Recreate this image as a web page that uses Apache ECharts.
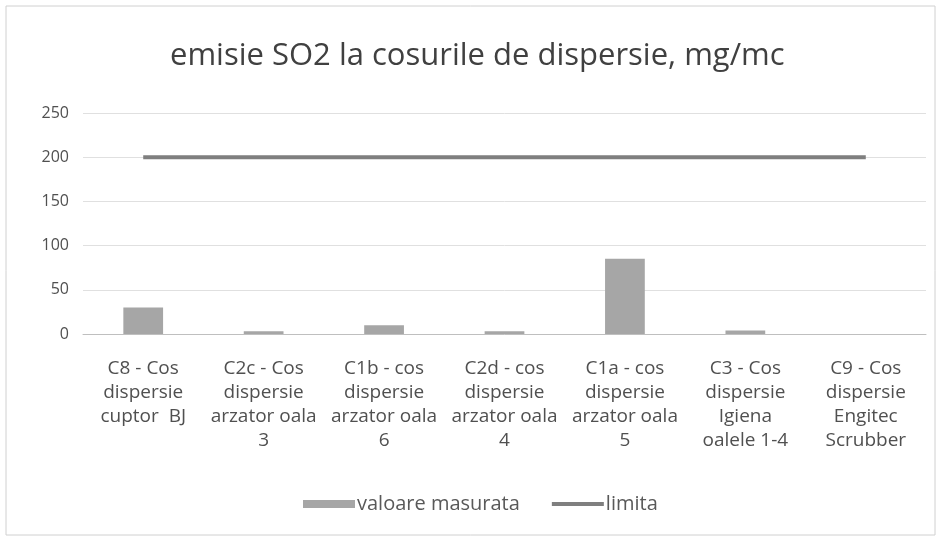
<!DOCTYPE html>
<html><head><meta charset="utf-8">
<script src="https://cdn.jsdelivr.net/npm/echarts@6/dist/echarts.min.js"></script>
<style>html,body{margin:0;padding:0;background:#fff}#c{width:941px;height:541px}</style>
</head><body><div id="c"></div>
<script>
var categories = ["C8 - Cos\ndispersie\ncuptor  BJ","C2c - Cos\ndispersie\narzator oala\n3","C1b - cos\ndispersie\narzator oala\n6","C2d - cos\ndispersie\narzator oala\n4","C1a - cos\ndispersie\narzator oala\n5","C3 - Cos\ndispersie\nIgiena\noalele 1-4","C9 - Cos\ndispersie\nEngitec\nScrubber"];
var measured = [30, 3, 10, 3, 85, 4, 0];
var limit = [200, 200, 200, 200, 200, 200, 200];
var yTicks = [0, 50, 100, 150, 200, 250];
var chart = echarts.init(document.getElementById('c'));
var font = '"Open Sans", "Noto Sans", sans-serif';
chart.setOption({
  animation: false,
  backgroundColor: '#fff',
  title: {text: 'emisie SO2 la cosurile de dispersie, mg/mc', left: 165, top: 36,
    textStyle: {fontFamily: font, fontSize: 31, fontWeight: 'normal', color: '#404040'}},
  graphic: [{type: 'rect', shape: {x: 6, y: 6, width: 929, height: 529}, style: {fill: 'none', stroke: '#d0d0d0', lineWidth: 1}}],
  legend: {bottom: 22, left: 298, itemGap: 30, itemWidth: 52, itemHeight: 8,
    textStyle: {fontFamily: font, fontSize: 20, color: '#595959', padding: [0, 0, 0, -3]},
    data: [{name: 'valoare masurata', icon: 'rect'},
           {name: 'limita', itemStyle: {opacity: 0}, lineStyle: {width: 4, color: '#7f7f7f'}}]},
  grid: {left: 83, right: 15, top: 113, bottom: 207},
  xAxis: {type: 'category', data: categories,
    axisLine: {lineStyle: {color: '#bfbfbf'}}, axisTick: {show: false},
    axisLabel: {interval: 0, fontFamily: font, fontSize: 19, color: '#505050', lineHeight: 24, margin: 23}},
  yAxis: {type: 'value', min: yTicks[0], max: yTicks[yTicks.length-1], interval: 50,
    axisLine: {show: false}, axisTick: {show: false},
    axisLabel: {fontFamily: font, fontSize: 16, color: '#505050', margin: 14},
    splitLine: {lineStyle: {color: '#e0e0e0'}}},
  series: [
    {name: 'valoare masurata', type: 'bar', data: measured, barWidth: '33%',
      itemStyle: {color: '#a6a6a6', borderWidth: 0}},
    {name: 'limita', type: 'line', data: limit, symbol: 'none', showSymbol: false,
      lineStyle: {color: '#7f7f7f', width: 4}, itemStyle: {color: '#7f7f7f'}}
  ]
});
</script></body></html>
